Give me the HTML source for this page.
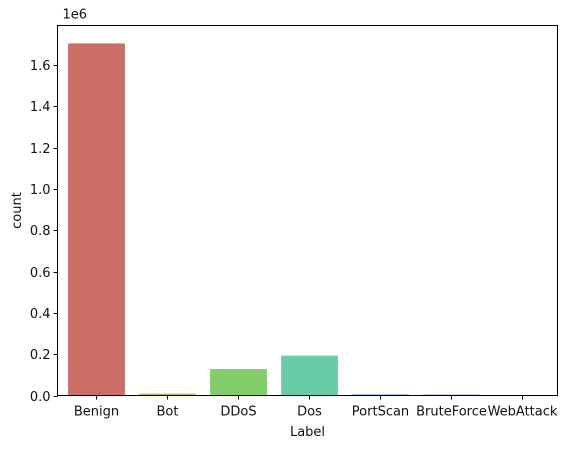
<!DOCTYPE html>
<html><head><meta charset="utf-8"><style>
body{margin:0;background:#fff;width:569px;height:448px;overflow:hidden}
text{font-family:"DejaVu Sans","Liberation Sans",sans-serif;font-size:13px;fill:#111}
</style></head><body>
<svg id="chart" width="569" height="448" xmlns="http://www.w3.org/2000/svg"></svg>
<script>
const categories=["Benign","Bot","DDoS","Dos","PortScan","BruteForce","WebAttack"];
const counts=[1705000,9000,128000,193000,5000,4000,2000];
const colors=["#cc6e66","#c4b35e","#80cd69","#67cca5","#5f8fc8","#7c5fcb","#c65fc0"];
const yTicks=[0,0.2,0.4,0.6,0.8,1.0,1.2,1.4,1.6];
const L=57.5,R=557.5,T=25.5,B=395.5;
const y=v=>B-v/1e6*206.5;
const band=71;
const cx=i=>96.5+band*i;
const svg=document.getElementById('chart');
const NS="http://www.w3.org/2000/svg";
function mk(t,a){const e=document.createElementNS(NS,t);for(const k in a)e.setAttribute(k,a[k]);svg.appendChild(e);return e;}
categories.forEach((c,i)=>{
  const r=mk('rect',{x:cx(i)-band*0.4,y:y(counts[i]),width:band*0.8,height:B-y(counts[i]),fill:colors[i]});
  
  
  const tk=mk('line',{x1:cx(i),x2:cx(i),y1:B,y2:B+4,stroke:'#000'});
  
  
  const t=mk('text',{x:cx(i),y:B+20,'text-anchor':'middle'});t.textContent=c;
  
  
});
yTicks.forEach(v=>{
  const yy=Math.round(y(v*1e6))+0.5;
  const tk=mk('line',{x1:L-4,x2:L,y1:yy,y2:yy,stroke:'#000'});
  
  
  const t=mk('text',{x:L-7,y:yy+4.5,'text-anchor':'end'});t.textContent=v.toFixed(1);
  
  
});
const fr=mk('rect',{x:L,y:T,width:R-L,height:B-T,fill:'none',stroke:'#000','stroke-width':1});


const off=mk('text',{x:L+5,y:T-7});off.textContent='1e6';


const xl=mk('text',{x:(L+R)/2,y:436,'text-anchor':'middle'});xl.textContent='Label';


const yl=mk('text',{x:21,y:(T+B)/2,'text-anchor':'middle',transform:`rotate(-90 21 ${(T+B)/2})`});yl.textContent='count';


</script>
</body></html>
